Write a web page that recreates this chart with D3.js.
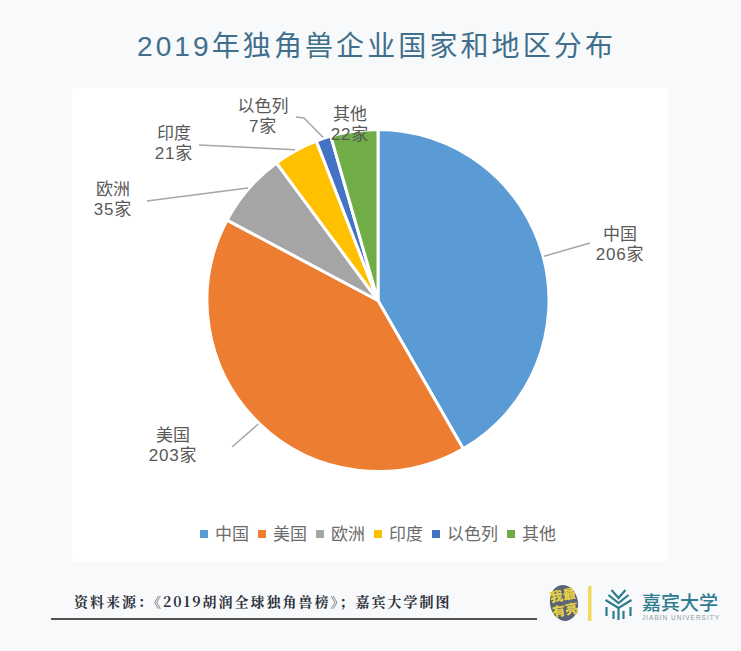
<!DOCTYPE html>
<html>
<head>
<meta charset="utf-8">
<script src="https://cdn.jsdelivr.net/npm/d3@7"></script>
<style>
body { margin: 0; background: #f8f9fb; }
text { font-family: "Liberation Sans", "Noto Sans CJK SC", sans-serif; }
</style>
</head>
<body>
<svg id="chart" width="741" height="651"></svg>
<script>
// chart data
let categories = ["中国", "美国", "欧洲", "印度", "以色列", "其他"];
let counts = [206, 203, 35, 21, 7, 22];
let colors = ["#5b9bd5", "#ed7d31", "#a5a5a5", "#ffc000", "#4472c4", "#70ad47"];

let titleText = "2019年独角兽企业国家和地区分布";
let sourceText = "资料来源：《2019胡润全球独角兽榜》；嘉宾大学制图";

// where each label sits, and where its leader line runs to
let labelX = [620, 173, 113, 174, 263, 350];
let labelY = [234, 435, 189, 133, 106, 114];
let leaderEnd = [[[590, 243]], [[232, 447]], [[147, 201]], [[199, 145]], [[304, 118], [296, 117]], null];
let legendX = [200, 258, 316, 374, 432, 507];

let svg = d3.select("#chart");
let cx = 378, cy = 300.5, radius = 171;

svg.append("rect").attr("width", 741).attr("height", 651).attr("fill", "#f8f9fb");
svg.append("rect").attr("x", 72).attr("y", 88).attr("width", 596).attr("height", 474)
    .attr("rx", 4).attr("fill", "#ffffff");

svg.append("text")
    .attr("x", 137).attr("y", 56)
    .attr("font-size", 28)
    .attr("letter-spacing", 3.1)
    .attr("fill", "#3f6f8c")
    .text(titleText);

// pie, clockwise from 12 o'clock
let pie = d3.pie().value(d => d).sort(null);
let arcs = pie(counts);
let arc = d3.arc().innerRadius(0).outerRadius(radius);
let edgeArc = d3.arc().innerRadius(radius + 1).outerRadius(radius + 1);

let g = svg.append("g").attr("transform", `translate(${cx},${cy})`);
g.selectAll("path")
    .data(arcs)
    .join("path")
    .attr("d", arc)
    .attr("fill", (d, i) => colors[i])
    .attr("stroke", "#ffffff")
    .attr("stroke-width", 3);

// leader lines
let leaderLine = d3.line();
arcs.forEach((d, i) => {
    if (!leaderEnd[i]) return;
    let p = edgeArc.centroid(d);
    svg.append("path")
        .attr("d", leaderLine([[cx + p[0], cy + p[1]]].concat(leaderEnd[i])))
        .attr("fill", "none")
        .attr("stroke", "#a6a6a6")
        .attr("stroke-width", 1.5);
});

// data labels
categories.forEach((name, i) => {
    svg.append("text")
        .attr("x", labelX[i]).attr("y", labelY[i] + 6)
        .attr("text-anchor", "middle")
        .attr("font-size", 17)
        .attr("fill", "#595959")
        .text(name);
    svg.append("text")
        .attr("x", labelX[i]).attr("y", labelY[i] + 26)
        .attr("text-anchor", "middle")
        .attr("font-size", 17)
        .attr("letter-spacing", 0.8)
        .attr("fill", "#595959")
        .text(counts[i] + "家");
});

// legend
categories.forEach((name, i) => {
    svg.append("rect")
        .attr("x", legendX[i]).attr("y", 530)
        .attr("width", 8).attr("height", 8)
        .attr("fill", colors[i]);
    svg.append("text")
        .attr("x", legendX[i] + 15).attr("y", 540)
        .attr("font-size", 17)
        .attr("fill", "#6b6b6b")
        .text(name);
});

// source line
svg.append("text")
    .attr("x", 74).attr("y", 607)
    .attr("font-size", 14)
    .attr("font-weight", 700)
    .attr("letter-spacing", 2)
    .attr("fill", "#2b2f38")
    .style("font-family", '"Noto Serif CJK SC", "Noto Sans CJK SC", serif')
    .text(sourceText);
svg.append("line")
    .attr("x1", 51).attr("x2", 537).attr("y1", 619).attr("y2", 619)
    .attr("stroke", "#1a1a1a").attr("stroke-width", 1.5);

// logo, roughly
let badge = svg.append("g").attr("transform", "translate(564,603) rotate(-10)");
badge.append("ellipse").attr("rx", 14).attr("ry", 18).attr("fill", "#5a6478");
badge.append("text").attr("text-anchor", "middle").attr("x", 0).attr("y", -3)
    .attr("font-size", 13).attr("font-weight", 900).attr("fill", "#e6cf45").text("我最");
badge.append("text").attr("text-anchor", "middle").attr("x", 0).attr("y", 12)
    .attr("font-size", 13).attr("font-weight", 900).attr("fill", "#e6cf45").text("有亮");
svg.append("rect").attr("x", 588).attr("y", 586).attr("width", 3.5).attr("height", 35).attr("fill", "#f0dc5a");

let icon = svg.append("g").attr("transform", "translate(618.5,590)")
    .attr("fill", "none").attr("stroke", "#2f7c8f").attr("stroke-width", 2.2);
[[0, 7], [5, 10], [10, 13]].forEach(([dy, w]) => {
    icon.append("path").attr("d", `M${-w},${dy} L0,${dy + 8} L${w},${dy}`);
});
icon.append("path").attr("d", "M0,18 V30 M-5,21 V29 M5,21 V29 M-12,17 V26 M12,17 V26");

svg.append("text").attr("x", 642).attr("y", 610)
    .attr("font-size", 19).attr("font-weight", 500).attr("fill", "#2f7c8f").text("嘉宾大学");
svg.append("text").attr("x", 642).attr("y", 620)
    .attr("font-size", 6.5).attr("letter-spacing", 1).attr("fill", "#8a9aa5").text("JIABIN UNIVERSITY");
</script>
</body>
</html>
